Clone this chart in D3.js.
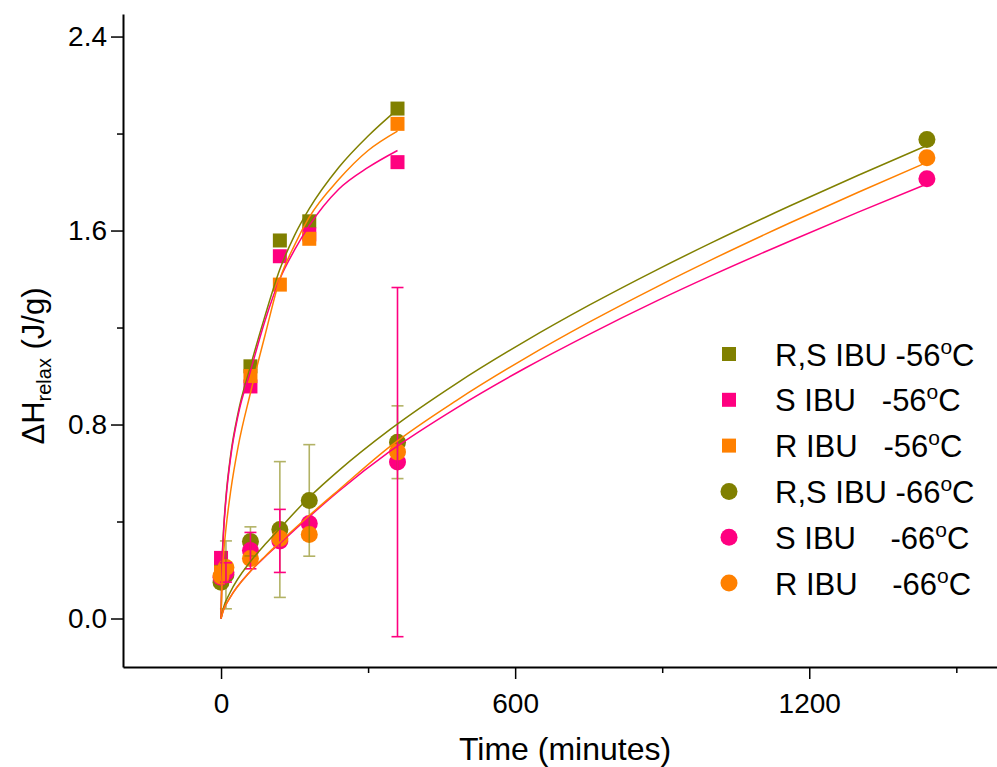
<!DOCTYPE html>
<html>
<head>
<meta charset="utf-8">
<script src="https://cdn.jsdelivr.net/npm/d3@7"></script>
<style>
  body { margin: 0; background: #fff; }
  text { font-family: Arial, "Liberation Sans", sans-serif; fill: #000; }
</style>
</head>
<body>
<svg width="997" height="767"></svg>
<script>
// measured points, -56 C (squares)
var timeSq = [0, 60, 120, 180, 360];
var rsSq = [0.21, 1.04, 1.559, 1.638, 2.103];
var sSq = [0.25, 0.957, 1.494, 1.584, 1.882];
var rSq = [0.19, 1.0, 1.377, 1.566, 2.04];

// measured points, -66 C (circles) with error bars
var timeCi = [0, 10, 60, 120, 180, 360, 1440];
var rsCi = [0.15, 0.18, 0.318, 0.367, 0.487, 0.727, 1.975];
var sCi = [0.17, 0.19, 0.28, 0.32, 0.392, 0.645, 1.814];
var rCi = [0.175, 0.21, 0.247, 0.33, 0.346, 0.687, 1.90];
var rsErr = [0, 0.14, 0.06, 0.28, 0.23, 0.15, 0];
var sErr = [0, 0.04, 0.075, 0.13, 0, 0.72, 0];
var rErr = [0, 0, 0, 0, 0, 0, 0];

// fitted curves
var fitT56 = [0, 2, 5, 10, 20, 35, 60, 90, 120, 150, 180, 240, 300, 360];
var fitRS56 = [0, 0.22, 0.36, 0.50, 0.68, 0.85, 1.04, 1.25, 1.44, 1.58, 1.69, 1.86, 1.99, 2.10];
var fitS56 = [0, 0.21, 0.35, 0.49, 0.67, 0.84, 1.02, 1.23, 1.40, 1.52, 1.62, 1.77, 1.86, 1.93];
var fitR56 = [0, 0.15, 0.26, 0.37, 0.53, 0.71, 0.93, 1.17, 1.40, 1.54, 1.655, 1.81, 1.93, 2.01];

var fitT66 = [0, 5, 18, 60, 90, 120, 180, 240, 345, 480, 620, 750, 890, 1000, 1160, 1300, 1440];
var fitRS66 = [0, 0.045, 0.105, 0.235, 0.306, 0.372, 0.50, 0.61, 0.78, 0.969, 1.143, 1.291, 1.439, 1.549, 1.701, 1.828, 1.951];
var fitS66 = [0, 0.035, 0.085, 0.195, 0.255, 0.31, 0.42, 0.525, 0.69, 0.868, 1.032, 1.171, 1.311, 1.414, 1.556, 1.676, 1.792];
var fitR66 = [0, 0.035, 0.085, 0.195, 0.257, 0.315, 0.425, 0.53, 0.71, 0.899, 1.073, 1.221, 1.369, 1.479, 1.631, 1.758, 1.881];

var seriesNames = ["R,S IBU -56", "S IBU   -56", "R IBU   -56", "R,S IBU -66", "S IBU    -66", "R IBU    -66"];
var colors = ["#808000", "#ff0080", "#ff8000"];

var yMajor = [0, 0.8, 1.6, 2.4];
var yMinor = [0.4, 1.2, 2.0];
var xMajor = [0, 600, 1200];
var xMinor = [300, 900, 1500];

var svg = d3.select("svg");
var padL = 123, padR = 997, padT = 14, padB = 667;

var x = d3.scaleLinear().domain([-200, 1583]).range([padL, padR]);
var y = d3.scaleLinear().domain([-0.2, 2.493]).range([padB, padT]);

// axes
svg.append("g").attr("transform", "translate(" + padL + ",0)")
  .call(d3.axisLeft(y).tickValues(yMajor).tickSize(12).tickSizeOuter(0).tickPadding(4).tickFormat(d3.format(".1f")));
svg.append("g").attr("transform", "translate(" + padL + ",0)")
  .call(d3.axisLeft(y).tickValues(yMinor).tickSize(6).tickSizeOuter(0).tickFormat(""))
  .select(".domain").remove();
svg.append("g").attr("transform", "translate(0," + padB + ")")
  .call(d3.axisBottom(x).tickValues(xMajor).tickSize(12).tickSizeOuter(0).tickPadding(14).tickFormat(d3.format("d")));
svg.append("g").attr("transform", "translate(0," + padB + ")")
  .call(d3.axisBottom(x).tickValues(xMinor).tickSize(6).tickSizeOuter(0).tickFormat(""))
  .select(".domain").remove();

svg.selectAll(".domain").attr("stroke-width", 2);
svg.selectAll(".tick line").attr("stroke-width", 1.5);
svg.selectAll(".tick text").attr("font-size", 28).attr("font-family", "Arial, 'Liberation Sans', sans-serif");

// axis titles
svg.append("text").attr("x", 565).attr("y", 760).attr("text-anchor", "middle")
  .attr("font-size", 32).text("Time (minutes)");

var yt = svg.append("text").attr("transform", "translate(44,366) rotate(-90)")
  .attr("text-anchor", "middle").attr("font-size", 31);
yt.append("tspan").text("\u0394H");
yt.append("tspan").attr("font-size", 20).attr("dy", 7).text("relax");
yt.append("tspan").attr("dy", -7).text(" (J/g)");

// markers
function squares(times, vals, col) {
  svg.append("g").selectAll("rect").data(times).enter().append("rect")
    .attr("x", function(d) { return x(d) - 7; })
    .attr("y", function(d, i) { return y(vals[i]) - 7; })
    .attr("width", 14).attr("height", 14)
    .attr("fill", col);
}
function circles(times, vals, col) {
  svg.append("g").selectAll("circle").data(times).enter().append("circle")
    .attr("cx", function(d) { return x(d); })
    .attr("cy", function(d, i) { return y(vals[i]); })
    .attr("r", 8.5).attr("fill", col);
}
squares(timeSq, rsSq, colors[0]);
squares(timeSq, sSq, colors[1]);
squares(timeSq, rSq, colors[2]);
circles(timeCi, rsCi, colors[0]);
circles(timeCi, sCi, colors[1]);
circles(timeCi, rCi, colors[2]);

// error bars
function errBars(times, vals, errs, col, op) {
  var g = svg.append("g").attr("stroke", col).attr("stroke-width", 1.6).attr("opacity", op);
  times.forEach(function(t, i) {
    if (!errs[i]) return;
    var cx = x(t), y1 = y(vals[i] + errs[i]), y2 = y(vals[i] - errs[i]);
    g.append("line").attr("x1", cx).attr("x2", cx).attr("y1", y1).attr("y2", y2);
    g.append("line").attr("x1", cx - 6).attr("x2", cx + 6).attr("y1", y1).attr("y2", y1);
    g.append("line").attr("x1", cx - 6).attr("x2", cx + 6).attr("y1", y2).attr("y2", y2);
  });
}
errBars(timeCi, rsCi, rsErr, colors[0], 0.6);
errBars(timeCi, sCi, sErr, colors[1], 1);
errBars(timeCi, rCi, rErr, colors[2], 1);

// fitted curves
var line = d3.line().curve(d3.curveMonotoneX)
  .x(function(d) { return x(d[0]); }).y(function(d) { return y(d[1]); });
function fit(ts, vs, col) {
  svg.append("path").datum(ts.map(function(t, i) { return [t, vs[i]]; }))
    .attr("d", line).attr("fill", "none").attr("stroke", col).attr("stroke-width", 1.5);
}
fit(fitT56, fitRS56, colors[0]);
fit(fitT56, fitS56, colors[1]);
fit(fitT56, fitR56, colors[2]);
fit(fitT66, fitRS66, colors[0]);
fit(fitT66, fitS66, colors[1]);
fit(fitT66, fitR66, colors[2]);

// legend
var lg = svg.append("g");
seriesNames.forEach(function(name, i) {
  var cy = 354 + i * 45.8;
  var col = colors[i % 3];
  if (i < 3) {
    lg.append("rect").attr("x", 722).attr("y", cy - 7).attr("width", 14).attr("height", 14).attr("fill", col);
  } else {
    lg.append("circle").attr("cx", 729).attr("cy", cy).attr("r", 8.5).attr("fill", col);
  }
  var t = lg.append("text").attr("x", 775).attr("y", cy + 11.5).attr("font-size", 31)
    .style("white-space", "pre");
  t.append("tspan").text(name);
  t.append("tspan").attr("font-size", 21).attr("dy", -12).text("o");
  t.append("tspan").attr("dy", 12).text("C");
});
</script>
</body>
</html>
